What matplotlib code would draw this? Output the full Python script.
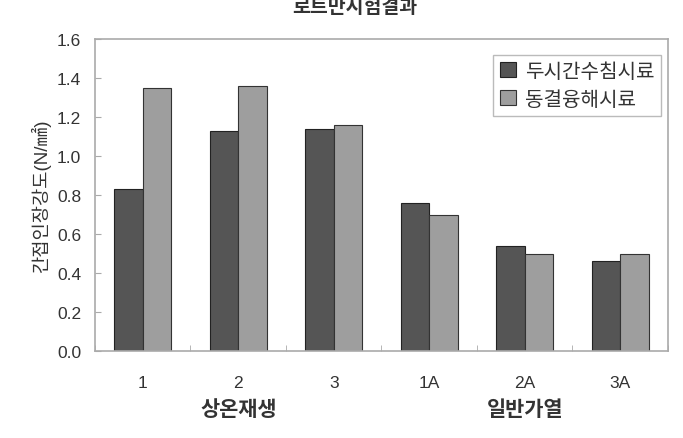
import numpy as np
import matplotlib
matplotlib.use('Agg')
import matplotlib.pyplot as plt

plt.rcParams['font.family'] = ['Liberation Sans', 'Noto Sans CJK KR', 'DejaVu Sans']

# %% data
categories = ['1', '2', '3', '1A', '2A', '3A']
groups     = ['상온재생', '일반가열']
series     = ['두시간수침시료', '동결융해시료']
soaked     = [0.83, 1.13, 1.14, 0.76, 0.54, 0.46]
freezethaw = [1.35, 1.36, 1.16, 0.70, 0.50, 0.50]

# %% plot
fig = plt.figure(figsize=(6.83, 4.39), dpi=100)
ax = fig.add_axes([0.139, 0.198, 0.839, 0.711])

x = np.arange(len(categories))
w = 0.3
ax.bar(x - w/2, soaked, w, color='#555555', edgecolor='#222222', linewidth=0.8, label=series[0])
ax.bar(x + w/2, freezethaw, w, color='#9e9e9e', edgecolor='#333333', linewidth=0.8, label=series[1])

ax.set_xlim(-0.5, len(categories) - 0.5)
ax.set_ylim(0, 1.6)
ax.set_yticks(np.arange(0, 1.61, 0.2))
ax.set_yticklabels(['%.1f' % v for v in np.arange(0, 1.61, 0.2)], fontsize=12.5, color='#333333')
ax.set_xticks(x)
ax.set_xticklabels(categories, fontsize=12.5, color='#333333')
ax.set_xticks(np.arange(-0.5, len(categories)), minor=True)
ax.tick_params(axis='x', which='major', length=0, pad=17)
ax.tick_params(axis='x', which='minor', direction='in', length=4, color='#aaaaaa')
ax.tick_params(axis='y', direction='in', length=4, color='#aaaaaa', pad=10)
for s in ax.spines.values():
    s.set_color('#aaaaaa')
    s.set_linewidth(1.2)

ax.set_ylabel('간접인장강도(N/㎟)', fontsize=13.5, color='#333333', labelpad=4)

# group labels under the category labels
ax.text(1, -0.186, groups[0], transform=ax.get_xaxis_transform(), ha='center', va='center',
        fontsize=15, fontweight='bold', color='#333333')
ax.text(4, -0.186, groups[1], transform=ax.get_xaxis_transform(), ha='center', va='center',
        fontsize=15, fontweight='bold', color='#333333')

leg = ax.legend(loc='upper right', fontsize=14.5, frameon=True, fancybox=False,
                edgecolor='#aaaaaa', borderpad=0.35, handlelength=0.8, handleheight=0.8,
                handletextpad=0.4, labelspacing=0.45, borderaxespad=0,
                bbox_to_anchor=(0.988, 0.95))
leg.get_frame().set_linewidth(1.0)
for t in leg.get_texts():
    t.set_color('#333333')

# title is cut at the top edge in the reference
fig.text(0.52, 1 - 7/439, '로트만시험결과', ha='center', va='center', fontsize=14,
         fontweight='bold', color='#333333')

fig.savefig('out.png', dpi=100)
